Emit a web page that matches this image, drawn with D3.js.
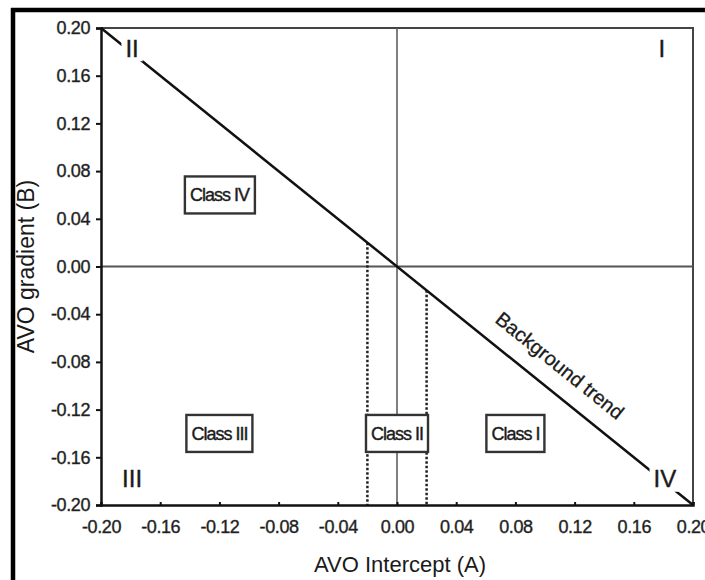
<!DOCTYPE html>
<html>
<head>
<meta charset="utf-8">
<script src="https://cdn.jsdelivr.net/npm/d3@7"></script>
<style>
  body { margin: 0; background: #fff; }
  svg text { font-family: Arial, "Liberation Sans", sans-serif; fill: #1a1a1a; }
</style>
</head>
<body>
<div id="chart"></div>
<script>
const xTicks = [-0.2, -0.16, -0.12, -0.08, -0.04, 0, 0.04, 0.08, 0.12, 0.16, 0.2];
const yTicks = [-0.2, -0.16, -0.12, -0.08, -0.04, 0, 0.04, 0.08, 0.12, 0.16, 0.2];
const trendLine = [[-0.2, 0.2], [0.2, -0.2]];
const cutoffX = [-0.02, 0.02];
const classNames = ["Class IV", "Class III", "Class II", "Class I"];
const classX = [-0.12, -0.12, 0.0, 0.08];
const classY = [0.06, -0.14, -0.14, -0.14];
const quadNames = ["I", "II", "III", "IV"];
const quadX = [0.179, -0.179, -0.179, 0.181];
const quadY = [0.183, 0.183, -0.178, -0.178];
const trendLabel = "Background trend";
const trendLabelPos = [0.11, -0.083];

const width = 705,
  height = 580,
  margin = { top: 28, right: 12, bottom: 75, left: 101 },
  svg = d3.select("#chart").append("svg").attr("width", width).attr("height", height),
  xScale = d3.scaleLinear().domain([-0.2, 0.2]).range([margin.left, width - margin.right]),
  yScale = d3.scaleLinear().domain([-0.2, 0.2]).range([height - margin.bottom, margin.top]);

// plain hyphen like the original print
const fmt = (d) => d3.format(".2f")(d).replace("\u2212", "-");

// cropped border of the scanned figure
svg.append("line").attr("x1", 11).attr("x2", width).attr("y1", 10).attr("y2", 10)
  .attr("stroke", "#000").attr("stroke-width", 4.5);
svg.append("line").attr("x1", 13).attr("x2", 13).attr("y1", 8).attr("y2", height)
  .attr("stroke", "#000").attr("stroke-width", 4.5);

// plot frame (top/right)
svg.append("path")
  .attr("d", `M${xScale(-0.2)},${yScale(0.2)}H${xScale(0.2)}V${yScale(-0.2)}`)
  .attr("fill", "none").attr("stroke", "#444").attr("stroke-width", 2);

// zero lines
svg.append("line")
  .attr("x1", xScale(-0.2)).attr("x2", xScale(0.2))
  .attr("y1", yScale(0)).attr("y2", yScale(0))
  .attr("stroke", "#555").attr("stroke-width", 2);
svg.append("line")
  .attr("x1", xScale(0)).attr("x2", xScale(0))
  .attr("y1", yScale(-0.2)).attr("y2", yScale(0.2))
  .attr("stroke", "#555").attr("stroke-width", 1.5);

// dotted cutoffs from trend line down to the axis
svg.append("g").selectAll("line").data(cutoffX).join("line")
  .attr("x1", (d) => xScale(d)).attr("x2", (d) => xScale(d))
  .attr("y1", (d) => yScale(-d)).attr("y2", yScale(-0.2))
  .attr("stroke", "#222").attr("stroke-width", 2.5).attr("stroke-dasharray", "2.5,2");

// background trend
svg.append("path")
  .attr("d", d3.line().x((d) => xScale(d[0])).y((d) => yScale(d[1]))(trendLine))
  .attr("stroke", "#111").attr("stroke-width", 2.5).attr("fill", "none");

const angle = Math.atan2(
  yScale(trendLine[1][1]) - yScale(trendLine[0][1]),
  xScale(trendLine[1][0]) - xScale(trendLine[0][0])
) * 180 / Math.PI;
svg.append("text")
  .attr("transform", `translate(${xScale(trendLabelPos[0])},${yScale(trendLabelPos[1])}) rotate(${angle})`)
  .attr("text-anchor", "middle").attr("dy", "0.35em")
  .style("font-size", "20px").attr("stroke", "#222").attr("stroke-width", 0.3)
  .text(trendLabel);

// class boxes
const boxes = svg.append("g").selectAll("g").data(classNames).join("g")
  .attr("transform", (d, i) => `translate(${xScale(classX[i])},${yScale(classY[i])})`);
boxes.append("rect").attr("class", "bx");
boxes.append("text")
  .attr("text-anchor", "middle").attr("dy", "0.36em")
  .style("font-size", "18px").style("letter-spacing", "-1px")
  .attr("stroke", "#222").attr("stroke-width", 0.4)
  .text((d) => d);
boxes.each(function () {
  const g = d3.select(this);
  const bb = g.select("text").node().getBBox();
  g.select("rect")
    .attr("x", bb.x - 5).attr("y", -18.5)
    .attr("width", bb.width + 10).attr("height", 37)
    .attr("fill", "#fff").attr("stroke", "#333").attr("stroke-width", 2.4);
});

// quadrant numerals, white patch cuts the trend line
const quads = svg.append("g").selectAll("g").data(quadNames).join("g")
  .attr("transform", (d, i) => `translate(${xScale(quadX[i])},${yScale(quadY[i])})`);
quads.append("rect");
quads.append("text")
  .attr("text-anchor", "middle").attr("dy", "0.36em")
  .style("font-size", "24px")
  .attr("stroke", "#222").attr("stroke-width", 0.4)
  .text((d) => d);
quads.each(function () {
  const g = d3.select(this);
  const bb = g.select("text").node().getBBox();
  g.select("rect")
    .attr("x", bb.x - 4).attr("y", -13)
    .attr("width", bb.width + 8).attr("height", 26)
    .attr("fill", "#fff");
});

// axes
const xAxis = svg.append("g")
  .attr("transform", `translate(0,${yScale(-0.2)})`)
  .call(d3.axisBottom(xScale).tickValues(xTicks).tickFormat(fmt).tickSize(-3).tickPadding(15));
const yAxis = svg.append("g")
  .attr("transform", `translate(${xScale(-0.2)},0)`)
  .call(d3.axisLeft(yScale).tickValues(yTicks).tickFormat(fmt).tickSize(5).tickPadding(6));

[xAxis, yAxis].forEach((ax) => {
  ax.select(".domain").attr("stroke", "#111").attr("stroke-width", 2.5);
  ax.selectAll(".tick line").attr("stroke", "#111").attr("stroke-width", 2);
  ax.selectAll(".tick text")
    .style("font-family", "Arial, 'Liberation Sans', sans-serif")
    .style("font-size", "18px").style("letter-spacing", "-0.4px")
    .attr("fill", "#1a1a1a").attr("stroke", "#333").attr("stroke-width", 0.4);
});

// titles
svg.append("text")
  .attr("x", (xScale(-0.2) + xScale(0.2)) / 2 + 3).attr("y", 572)
  .attr("text-anchor", "middle").style("font-size", "22px")
  .text("AVO Intercept (A)");
svg.append("text")
  .attr("transform", `translate(34,${yScale(0)}) rotate(-90)`)
  .attr("text-anchor", "middle").style("font-size", "23px")
  .text("AVO gradient (B)");
</script>
</body>
</html>
